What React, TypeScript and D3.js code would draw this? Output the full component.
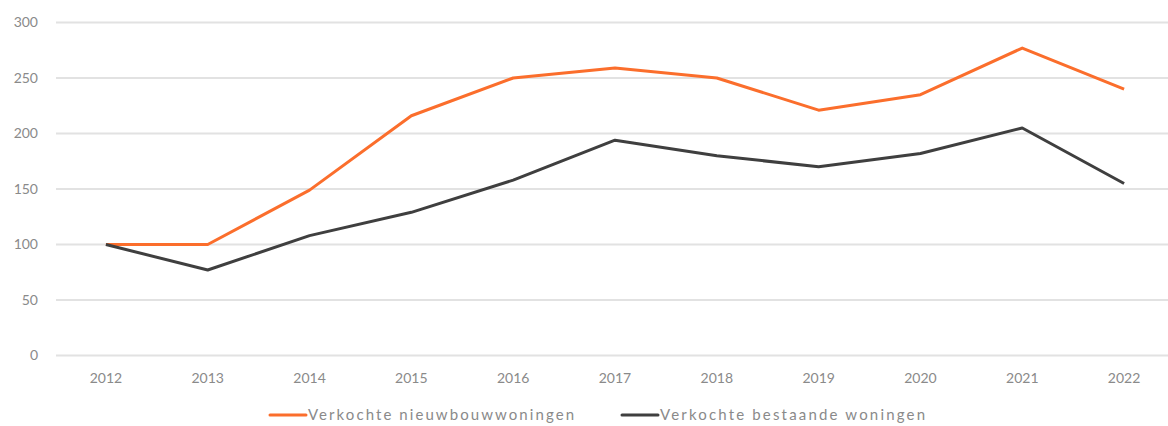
import React from "react";
import * as d3 from "d3";

const years = ["2012","2013","2014","2015","2016","2017","2018","2019","2020","2021","2022"];
const nieuwbouw = [100, 100, 149, 216, 250, 259, 250, 221, 235, 277, 240];
const bestaand = [100, 77, 108, 129, 158, 194, 180, 170, 182, 205, 155];
const yTicks = [0, 50, 100, 150, 200, 250, 300];
const seriesNames = ["Verkochte nieuwbouwwoningen", "Verkochte bestaande woningen"];
const colors = ["#FB6E2C", "#3F3F3F"];

export default function App() {
  const W = 1168, H = 426;
  const left = 55, right = 1175, top = 22.5, bottom = 355.5;
  const x = d3.scaleBand().domain(years).range([left, right]);
  const y = d3.scaleLinear().domain([0, 300]).range([bottom, top]);
  const line = d3.line<number>().x((_, i) => x(years[i])! + x.bandwidth() / 2).y(d => y(d));
  const font = "Lato, 'Open Sans', sans-serif";
  const series = [nieuwbouw, bestaand];
  const legendX = [270, 622];
  const legendLen = [266, 265];
  return (
    <svg width={W} height={H} style={{ position: "absolute", left: 0, top: 0 }} fontFamily={font}>
      <rect width={W} height={H} fill="#fff" />
      {yTicks.map(t => (
        <g key={t}>
          <line x1={left + 1} x2={right} y1={y(t)} y2={y(t)} stroke="#e2e2e2" strokeWidth={2} />
          <text x={38} y={y(t)} dy="0.35em" textAnchor="end" fontSize={14} fill="#8a8a8a">{t}</text>
        </g>
      ))}
      {years.map(yr => (
        <text key={yr} x={x(yr)! + x.bandwidth() / 2} y={378} dy="0.35em" textAnchor="middle" fontSize={14} fill="#8a8a8a">{yr}</text>
      ))}
      {series.map((s, i) => (
        <path key={i} d={line(s)!} fill="none" stroke={colors[i]} strokeWidth={3} strokeLinejoin="round" />
      ))}
      {seriesNames.map((n, i) => (
        <g key={n}>
          <line x1={legendX[i]} x2={legendX[i] + 36} y1={415} y2={415} stroke={colors[i]} strokeWidth={3} strokeLinecap="round" />
          <text x={legendX[i] + 38} y={415} dy="0.35em" fontSize={15} fill="#8a8a8a" textLength={legendLen[i]} lengthAdjust="spacing">{n}</text>
        </g>
      ))}
    </svg>
  );
}
